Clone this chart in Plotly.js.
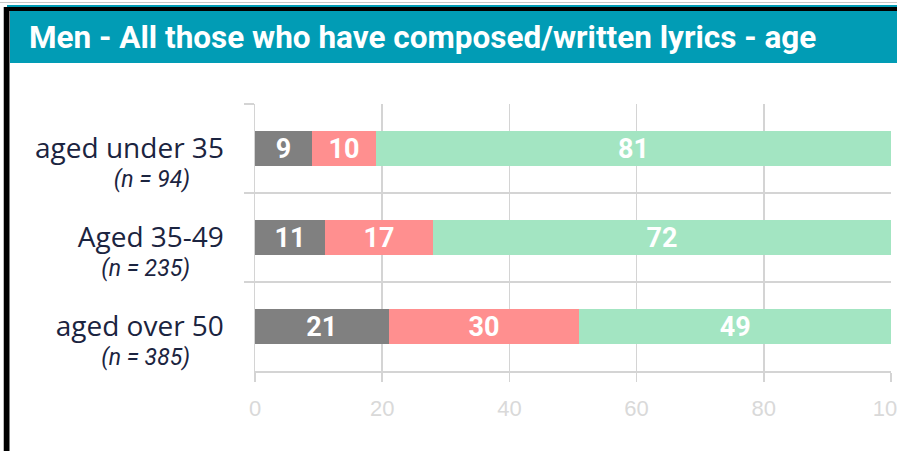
<!DOCTYPE html>
<html>
<head>
<meta charset="utf-8">
<script src="https://cdn.plot.ly/plotly-3.0.1.min.js"></script>
<style>html,body{margin:0;padding:0;background:#fff;}#chart{width:897px;height:451px;}</style>
</head>
<body>
<div id="chart"></div>
<script>
var titleText = "Men - All those who have composed/written lyrics - age";
var groups = ["aged under 35", "Aged 35-49", "aged over 50"];
var sampleSizes = ["(n = 94)", "(n = 235)", "(n = 385)"];
var seriesNames = ["Series 1", "Series 2", "Series 3"];
var greyValues = [9, 11, 21];
var redValues = [10, 17, 30];
var greenValues = [81, 72, 49];
var xTicks = [0, 20, 40, 60, 80, 100];

var NB = "\u00a0";
var labels = groups.map(function (g, i) {
  return '<span style="font-size:28px">' + g + '</span><br><span style="font-size:23px;font-family:Roboto"><i>' + sampleSizes[i] + NB.repeat(6) + '</i></span>';
});

function mk(name, vals, color) {
  return {
    type: 'bar', orientation: 'h', name: name,
    x: vals, y: labels,
    marker: {color: color, line: {width: 0}},
    text: vals.map(String), textposition: 'inside', insidetextanchor: 'middle',
    textangle: 0, constraintext: 'none',
    textfont: {family: 'Roboto, sans-serif', size: 27, color: '#ffffff', weight: 700},
    hoverinfo: 'x+name', showlegend: false
  };
}

var data = [
  mk(seriesNames[0], greyValues, '#808080'),
  mk(seriesNames[1], redValues, '#ff8f8f'),
  mk(seriesNames[2], greenValues, '#a3e5c2')
];

var W = 897, H = 451, L = 255, R = 891, T = 104, B = 371;
function px(x) { return (x - L) / (R - L); }
function py(y) { return (B - y) / (B - T); }

var shapes = [
  {type: 'rect', xref: 'paper', yref: 'paper', x0: px(10), x1: px(900), y0: py(63), y1: py(11), fillcolor: '#019cb5', line: {width: 0}, layer: 'below'},
  {type: 'rect', xref: 'paper', yref: 'paper', x0: px(4), x1: px(900), y0: py(11), y1: py(7), fillcolor: '#000000', line: {width: 0}},
  {type: 'rect', xref: 'paper', yref: 'paper', x0: px(7), x1: px(900), y0: py(7), y1: py(5), fillcolor: '#019cb5', line: {width: 0}},
  {type: 'rect', xref: 'paper', yref: 'paper', x0: px(4), x1: px(9.5), y0: py(460), y1: py(7), fillcolor: '#000000', line: {width: 0}},
  {type: 'line', xref: 'paper', yref: 'paper', x0: px(0), x1: px(900), y0: py(2.5), y1: py(2.5), line: {color: '#c8c8c8', width: 1}},
  {type: 'line', xref: 'paper', yref: 'paper', x0: px(3.5), x1: px(3.5), y0: py(460), y1: py(7), line: {color: '#bbbbbb', width: 1}}
];

var layout = {
  width: W, height: H,
  margin: {l: L, r: W - R, t: T, b: H - B, pad: 0},
  paper_bgcolor: '#ffffff', plot_bgcolor: '#ffffff',
  barmode: 'stack', bargap: 0.607,
  showlegend: false,
  xaxis: {
    range: [0, 100], tickvals: xTicks, ticktext: xTicks.map(String),
    showgrid: true, gridcolor: '#d4d4d4', gridwidth: 1.5,
    zeroline: false, showline: true, linecolor: '#d4d4d4', linewidth: 1.5,
    ticks: 'outside', ticklen: 9, tickcolor: '#d4d4d4', tickwidth: 1.5,
    tickfont: {family: '"Liberation Sans Narrow", "Liberation Sans", sans-serif', size: 22, color: '#d9d9d9'},
    ticklabelstandoff: 8, ticklabeloverflow: 'allow', fixedrange: true
  },
  yaxis: {
    type: 'category', categoryorder: 'array', categoryarray: labels, autorange: 'reversed',
    tickson: 'boundaries', showgrid: true, gridcolor: '#d4d4d4', gridwidth: 1.5,
    showline: true, linecolor: '#d4d4d4', linewidth: 1.5,
    ticks: 'outside', ticklen: 10, tickcolor: '#d4d4d4', tickwidth: 1.5,
    tickfont: {family: '"Open Sans", sans-serif', size: 23, color: '#1b2440'},
    ticklabelstandoff: 25, ticklabelshift: -16, fixedrange: true
  },
  shapes: shapes,
  annotations: [{
    xref: 'paper', yref: 'paper', x: px(27), y: py(37), xanchor: 'left', yanchor: 'middle',
    text: '<b>' + titleText + '</b>', showarrow: false,
    font: {family: 'Roboto, sans-serif', size: 31.5, color: '#ffffff'}
  }]
};

Plotly.newPlot('chart', data, layout, {displayModeBar: false, staticPlot: true});
</script>
</body>
</html>
